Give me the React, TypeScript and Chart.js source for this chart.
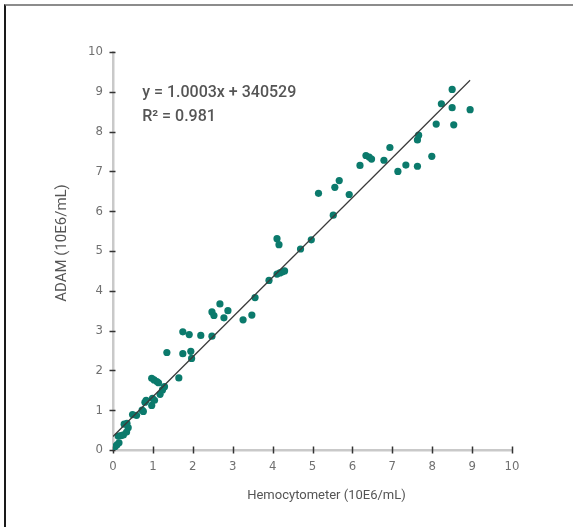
import React, { useEffect, useRef } from "react";
import { Chart, registerables } from "chart.js";

Chart.register(...registerables);

// Hemocytometer counts (10E6/mL)
const hemocytometer = [
  0.0, 0.05, 0.1, 0.15, 0.13, 0.2, 0.26, 0.28, 0.35, 0.38, 0.34, 0.49, 0.59, 0.73, 0.76, 0.8,
  0.83, 0.97, 0.99, 1.04, 0.97, 1.03, 1.1, 1.14, 1.18, 1.24, 1.29, 1.35, 1.65, 1.75, 1.75, 1.91,
  1.95, 1.97, 2.2, 2.48, 2.48, 2.53, 2.68, 2.78, 2.88, 3.26, 3.48, 3.56, 3.91, 4.11, 4.18, 4.24,
  4.3, 4.11, 4.16, 4.7, 4.97, 5.52, 5.15, 5.56, 5.67, 5.92, 6.19, 6.34, 6.42, 6.48, 6.79, 6.94,
  7.14, 7.34, 7.63, 7.63, 7.66, 7.99, 8.1, 8.23, 8.5, 8.5, 8.54, 8.95,
];
// ADAM counts (10E6/mL)
const adam = [
  0.02, 0.08, 0.13, 0.18, 0.35, 0.36, 0.38, 0.65, 0.67, 0.56, 0.45, 0.89, 0.87, 1.0, 0.97, 1.2,
  1.25, 1.12, 1.3, 1.25, 1.8, 1.76, 1.72, 1.69, 1.4, 1.51, 1.59, 2.45, 1.81, 2.97, 2.42, 2.9,
  2.48, 2.3, 2.88, 2.86, 3.47, 3.38, 3.67, 3.32, 3.5, 3.27, 3.39, 3.83, 4.26, 4.42, 4.45, 4.47,
  4.5, 5.31, 5.16, 5.05, 5.28, 5.9, 6.45, 6.6, 6.77, 6.42, 7.15, 7.4, 7.36, 7.31, 7.28, 7.6,
  7.0, 7.16, 7.13, 7.79, 7.91, 7.38, 8.19, 8.7, 9.06, 8.6, 8.17, 8.55,
];
// Trend line endpoints
const fitX = [0, 8.95];
const fitY = [0.34, 9.29];

const axisMin = 0;
const axisMax = 10;
const axisStep = 1;

const equationText = "y = 1.0003x + 340529";
const r2Text = "R² = 0.981";
const xTitle = "Hemocytometer (10E6/mL)";
const yTitle = "ADAM (10E6/mL)";

const tickFont = "'Liberation Sans Narrow', 'DejaVu Sans Condensed', 'Roboto', sans-serif";
const textFont = "Roboto, 'Noto Sans', sans-serif";

const tickMarks = {
  id: "tickMarks",
  beforeDatasetsDraw(chart: any) {
    const { ctx, chartArea, scales } = chart;
    const x = scales.x;
    const y = scales.y;
    ctx.save();
    ctx.strokeStyle = "#333";
    ctx.lineWidth = 1.5;
    x.ticks.forEach((t: any) => {
      const px = Math.round(x.getPixelForValue(t.value)) + 0.5;
      ctx.beginPath();
      ctx.moveTo(px, chartArea.bottom - 3.5);
      ctx.lineTo(px, chartArea.bottom + 3.5);
      ctx.stroke();
    });
    y.ticks.forEach((t: any) => {
      const py = Math.round(y.getPixelForValue(t.value)) + 0.5;
      ctx.beginPath();
      ctx.moveTo(chartArea.left - 3.5, py);
      ctx.lineTo(chartArea.left + 2.5, py);
      ctx.stroke();
    });
    ctx.restore();
  },
  afterDraw(chart: any) {
    const { ctx, scales, chartArea } = chart;
    const x = scales.x;
    const y = scales.y;
    ctx.save();
    ctx.fillStyle = "#555";
    ctx.font = `500 16px ${textFont}`;
    ctx.textBaseline = "middle";
    ctx.textAlign = "left";
    ctx.fillText(equationText, x.getPixelForValue(0.73), y.getPixelForValue(8.97));
    ctx.fillText(r2Text, x.getPixelForValue(0.73), y.getPixelForValue(8.37));

    // axis titles
    ctx.textAlign = "center";
    ctx.font = `13px ${textFont}`;
    ctx.fillText(xTitle, (chartArea.left + chartArea.right) / 2 + 14, chartArea.bottom + 46);
    ctx.translate(62, (chartArea.top + chartArea.bottom) / 2 - 8);
    ctx.rotate(-Math.PI / 2);
    ctx.font = `15px ${textFont}`;
    ctx.fillText(yTitle, 0, 0);
    ctx.restore();
  },
};

export default function App() {
  const canvasRef = useRef<HTMLCanvasElement | null>(null);

  useEffect(() => {
    if (!canvasRef.current) return;
    const points = hemocytometer.map((v, i) => ({ x: v, y: adam[i] }));
    const fit = fitX.map((v, i) => ({ x: v, y: fitY[i] }));

    const chart = new Chart(canvasRef.current, {
      type: "scatter",
      data: {
        datasets: [
          {
            type: "line",
            data: fit,
            borderColor: "#3a3a3a",
            borderWidth: 1.2,
            pointRadius: 0,
            fill: false,
            order: 0,
          } as any,
          {
            type: "scatter",
            data: points,
            backgroundColor: "#0b7a6c",
            borderWidth: 0,
            pointRadius: 3.6,
            pointHoverRadius: 3.6,
            order: 1,
          } as any,
        ],
      },
      options: {
        responsive: false,
        animation: false,
        events: [],
        layout: { padding: { left: 0, top: 52, right: 61, bottom: 0 } },
        plugins: {
          legend: { display: false },
          tooltip: { enabled: false },
        },
        scales: {
          x: {
            type: "linear",
            min: axisMin,
            max: axisMax,
            ticks: {
              stepSize: axisStep,
              color: "#707070",
              font: { family: tickFont, size: 13 },
              padding: 9,
            },
            grid: { display: true, drawOnChartArea: false, drawTicks: false },
            border: { display: true, color: "#c9c9c9", width: 2.5 },
            title: { display: false },
            afterFit: (s: any) => {
              s.height = 77;
            },
          },
          y: {
            type: "linear",
            min: axisMin,
            max: axisMax,
            ticks: {
              stepSize: axisStep,
              color: "#707070",
              font: { family: tickFont, size: 13 },
              padding: 10,
            },
            grid: { display: true, drawOnChartArea: false, drawTicks: false },
            border: { display: true, color: "#c9c9c9", width: 2.5 },
            title: { display: false },
            afterFit: (s: any) => {
              s.width = 113;
            },
          },
        },
      },
      plugins: [tickMarks],
    });
    return () => chart.destroy();
  }, []);

  return (
    <div style={{ position: "absolute", left: 0, top: 0, width: 573, height: 527, background: "#fff" }}>
      <div
        style={{
          position: "absolute",
          left: 4,
          top: 4,
          right: 0,
          bottom: 0,
          borderTop: "2px solid #8c8c8c",
          borderLeft: "2px solid #1a1a1a",
        }}
      />
      <canvas
        ref={canvasRef}
        width={573}
        height={527}
        style={{ position: "absolute", left: 0, top: 0, width: 573, height: 527 }}
      />
    </div>
  );
}
